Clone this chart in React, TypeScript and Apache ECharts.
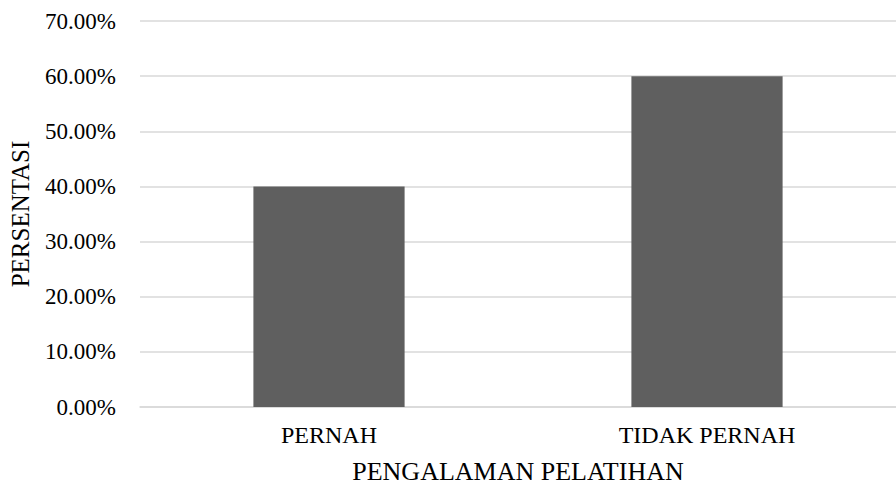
import React, { useEffect, useRef } from "react";
import * as echarts from "echarts";

const categories = ["PERNAH", "TIDAK PERNAH"];
const values = [40, 60];
const yTicksMax = 70;
const yTickStep = 10;
const xAxisTitle = "PENGALAMAN PELATIHAN";
const yAxisTitle = "PERSENTASI";

const FONT = '"Liberation Serif", "Times New Roman", serif';

export default function App() {
  const ref = useRef<HTMLDivElement>(null);
  useEffect(() => {
    if (!ref.current) return;
    const chart = echarts.init(ref.current, undefined, { renderer: "svg" });
    chart.setOption({
      animation: false,
      backgroundColor: "#ffffff",
      grid: { left: 137, top: 21, width: 764, height: 391, containLabel: false },
      xAxis: {
        type: "category",
        data: categories,
        name: xAxisTitle,
        nameLocation: "middle",
        nameGap: 51,
        nameTextStyle: { fontFamily: FONT, fontSize: 26, color: "#000000" },
        axisLine: { show: true, lineStyle: { color: "#d9d9d9", width: 1.5 } },
        axisTick: { show: false },
        axisLabel: { fontFamily: FONT, fontSize: 24, color: "#000000", margin: 16 },
      },
      yAxis: {
        type: "value",
        min: 0,
        max: yTicksMax,
        interval: yTickStep,
        name: yAxisTitle,
        nameLocation: "middle",
        nameRotate: 90,
        nameGap: 107,
        nameTextStyle: { fontFamily: FONT, fontSize: 25, color: "#000000" },
        axisLine: { show: false },
        axisTick: { show: false },
        splitLine: { lineStyle: { color: "#d9d9d9", width: 1.5 } },
        axisLabel: {
          fontFamily: FONT,
          fontSize: 23,
          color: "#000000",
          margin: 24,
          formatter: (v: number) => v.toFixed(2) + "%",
        },
      },
      series: [
        {
          type: "bar",
          data: values,
          barWidth: "40%",
          itemStyle: { color: "#5f5f5f" },
        },
      ],
    });
    return () => chart.dispose();
  }, []);
  return (
    <div
      ref={ref}
      style={{ position: "fixed", left: 0, top: 0, width: 896, height: 489, background: "#ffffff" }}
    />
  );
}
